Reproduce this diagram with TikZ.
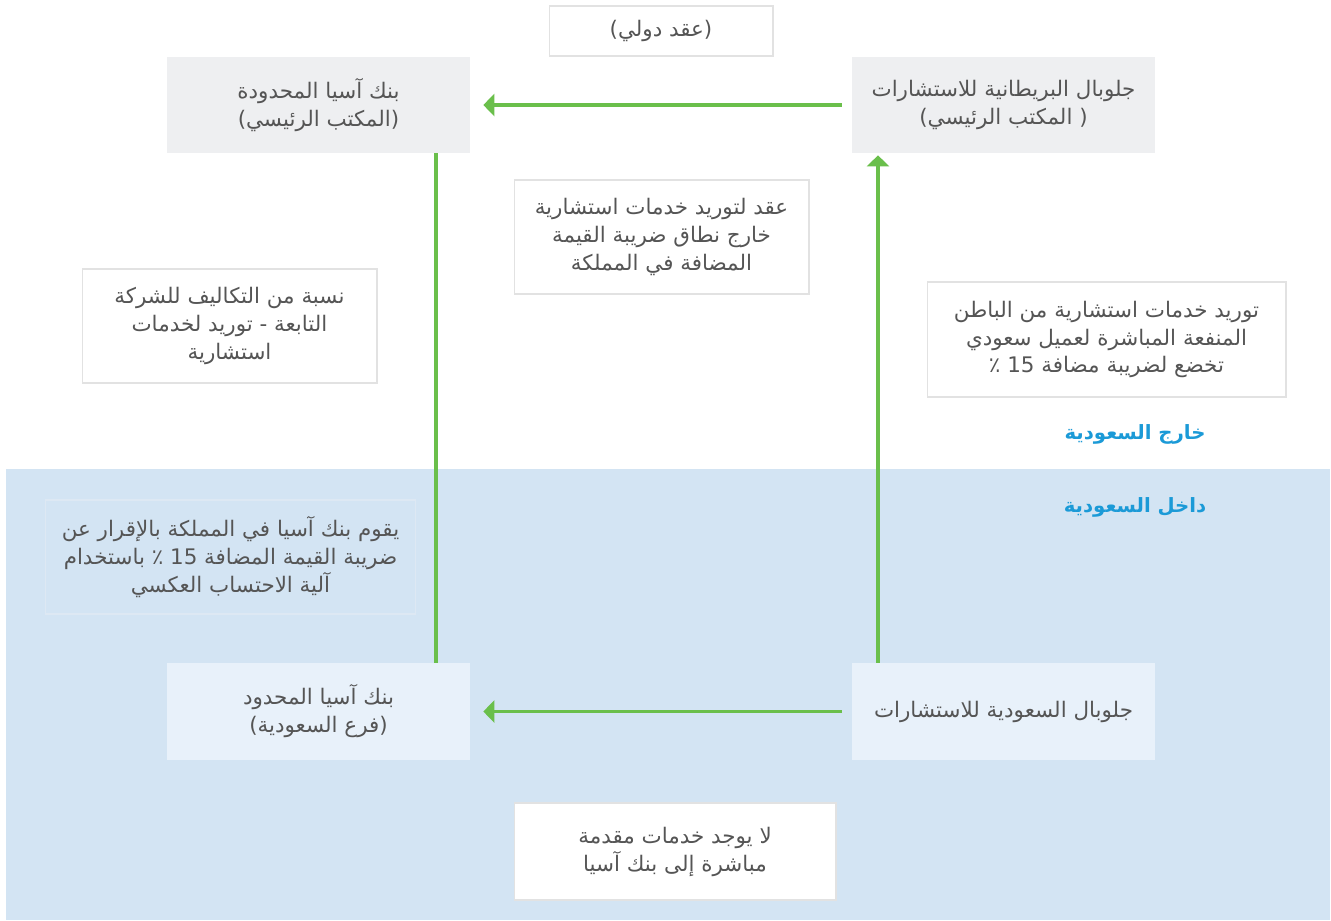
\documentclass[tikz,border=0pt]{standalone}
\usepackage{fontspec}
\usetikzlibrary{arrows.meta}
\TeXXeTstate=1
\newfontfamily\arfont[Script=Arabic]{DejaVu Sans}
\newcommand\RL[1]{\beginR #1\endR}
\definecolor{txtgray}{HTML}{555555}
\definecolor{boxgray}{HTML}{EEEFF1}
\definecolor{region}{HTML}{D3E4F3}
\definecolor{saudibox}{HTML}{E8F1FA}
\definecolor{thinborder}{HTML}{E2E2E2}
\definecolor{regborder}{HTML}{DDE8F3}
\definecolor{flowgreen}{HTML}{6ABF4B}
\definecolor{labelblue}{HTML}{1B9AD7}
\tikzset{
  every node/.style={font=\arfont\fontsize{12.2}{15.9}\selectfont, text=txtgray, align=center, inner sep=0pt},
  hqbox/.style={rectangle, fill=boxgray, minimum width=6.06cm, minimum height=1.92cm},
  sabox/.style={rectangle, fill=saudibox, minimum width=6.06cm, minimum height=1.94cm},
  notebox/.style={rectangle, fill=white, draw=thinborder, line width=0.6pt},
  regnote/.style={rectangle, fill=region, draw=regborder, line width=0.6pt},
  arealabel/.style={font=\arfont\bfseries\fontsize{11.2}{15}\selectfont, text=labelblue},
  flow/.style={draw=flowgreen, line width=1.8pt, -{Triangle[length=0.22cm,width=0.44cm]}},
  plainflow/.style={draw=flowgreen, line width=1.8pt}
}
\begin{document}
\begin{tikzpicture}[x=0.02cm,y=-0.02cm]
\fill[white] (0,0) rectangle (1331,920);
\fill[region] (6,469) rectangle (1330,920);
\useasboundingbox (0,0) rectangle (1331,920);

\node[notebox, minimum width=4.48cm, minimum height=1.0cm] (contract) at (661,31) {\RL{(عقد دولي)}};
\node[hqbox] (ahq) at (318.5,105) {\RL{بنك آسيا المحدودة}\\\RL{(المكتب الرئيسي)}};
\node[hqbox] (ghq) at (1003.5,105) {\RL{جلوبال البريطانية للاستشارات}\\\RL{( المكتب الرئيسي)}};
\node[notebox, minimum width=5.9cm, minimum height=2.28cm] (mid) at (661.5,237) {\RL{عقد لتوريد خدمات استشارية}\\\RL{خارج نطاق ضريبة القيمة}\\\RL{المضافة في المملكة}};
\node[notebox, minimum width=5.9cm, minimum height=2.28cm] (leftnote) at (229.5,326) {\RL{نسبة من التكاليف للشركة}\\\RL{التابعة - توريد لخدمات}\\\RL{استشارية}};
\node[notebox, minimum width=7.18cm, minimum height=2.3cm] (rightnote) at (1106.5,339.5) {\RL{توريد خدمات استشارية من الباطن}\\\RL{المنفعة المباشرة لعميل سعودي}\\\RL{تخضع لضريبة مضافة  15 ٪}};
\node[arealabel] (outside) at (1135,434) {\RL{خارج السعودية}};
\node[arealabel] (inside) at (1135,507) {\RL{داخل السعودية}};
\node[regnote, minimum width=7.42cm, minimum height=2.28cm] (reverse) at (230.5,557) {\RL{يقوم بنك آسيا في المملكة بالإقرار عن}\\\RL{ضريبة القيمة المضافة 15 ٪ باستخدام}\\\RL{آلية الاحتساب العكسي}};
\node[sabox] (asa) at (318.5,711.5) {\RL{بنك آسيا المحدود}\\\RL{(فرع السعودية)}};
\node[sabox] (gsa) at (1003.5,711.5) {\RL{جلوبال السعودية للاستشارات}};
\node[notebox, minimum width=6.44cm, minimum height=1.94cm] (bottom) at (675,851.5) {\RL{لا يوجد خدمات مقدمة}\\\RL{مباشرة إلى بنك آسيا}};

\coordinate (lx) at (436,0);
\coordinate (rx) at (878,0);
\draw[flow, shorten <=0.2cm, shorten >=0.26cm] (ghq.west) -- (ahq.east);
\draw[flow, shorten <=0.2cm, shorten >=0.26cm] (gsa.west) -- (asa.east);
\draw[plainflow] (ahq.south -| lx) -- (asa.north -| lx);
\draw[flow, shorten >=0.04cm] (gsa.north -| rx) -- (ghq.south -| rx);
\end{tikzpicture}
\end{document}
